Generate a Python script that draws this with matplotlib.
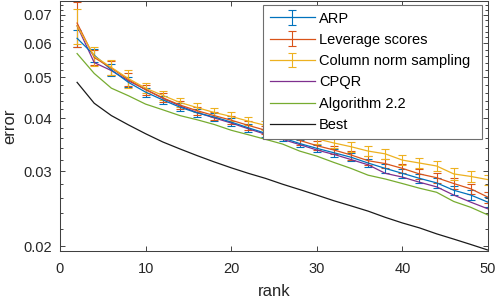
"""Approximation error vs rank for several column selection methods."""

import matplotlib

matplotlib.use("Agg")
import matplotlib.pyplot as plt
import numpy as np
from matplotlib.ticker import FixedLocator, FormatStrFormatter, NullFormatter

plt.rcParams["font.family"] = ["Liberation Sans", "DejaVu Sans"]

ranks = np.arange(2, 51, 2)

arp = [0.0617, 0.0563, 0.0520, 0.0486, 0.0461, 0.0442, 0.0425, 0.0412, 0.0403,
       0.0392, 0.0380, 0.0369, 0.0360, 0.0349, 0.0340, 0.0332, 0.0324, 0.0314,
       0.0305, 0.0297, 0.0289, 0.0282, 0.0271, 0.0264, 0.0254]
arp_err = [0.0029, 0.0020, 0.0018, 0.0013, 0.0011, 0.0010, 0.0009, 0.0009, 0.0008,
           0.0008, 0.0008, 0.0008, 0.0007, 0.0007, 0.0007, 0.0007, 0.0007, 0.0007,
           0.0007, 0.0007, 0.0007, 0.0007, 0.0007, 0.0007, 0.0007]

leverage = [0.0670, 0.0556, 0.0525, 0.0493, 0.0467, 0.0447, 0.0430, 0.0417, 0.0406,
            0.0396, 0.0385, 0.0375, 0.0366, 0.0355, 0.0345, 0.0337, 0.0328, 0.0318,
            0.0313, 0.0305, 0.0296, 0.0290, 0.0281, 0.0273, 0.0261]
leverage_err = [0.0082, 0.0022, 0.0020, 0.0017, 0.0013, 0.0011, 0.0010, 0.0009, 0.0009,
                0.0009, 0.0009, 0.0008, 0.0008, 0.0008, 0.0008, 0.0008, 0.0008, 0.0008,
                0.0008, 0.0008, 0.0008, 0.0008, 0.0008, 0.0008, 0.0008]

colnorm = [0.0660, 0.0560, 0.0527, 0.0496, 0.0471, 0.0453, 0.0436, 0.0424, 0.0413,
           0.0404, 0.0394, 0.0385, 0.0376, 0.0366, 0.0358, 0.0350, 0.0343, 0.0335,
           0.0330, 0.0319, 0.0314, 0.0309, 0.0296, 0.0292, 0.0287]
colnorm_err = [0.0063, 0.0030, 0.0022, 0.0024, 0.0013, 0.0012, 0.0010, 0.0010, 0.0010,
               0.0009, 0.0009, 0.0009, 0.0009, 0.0009, 0.0009, 0.0009, 0.0009, 0.0009,
               0.0009, 0.0009, 0.0009, 0.0009, 0.0009, 0.0008, 0.0008]

cpqr = [0.0660, 0.0541, 0.0518, 0.0490, 0.0468, 0.0446, 0.0428, 0.0413, 0.0401,
        0.0390, 0.0378, 0.0367, 0.0357, 0.0347, 0.0337, 0.0329, 0.0320, 0.0311,
        0.0297, 0.0291, 0.0283, 0.0276, 0.0264, 0.0254, 0.0245]

alg22 = [0.0568, 0.0510, 0.0471, 0.0452, 0.0432, 0.0419, 0.0406, 0.0397, 0.0387,
         0.0375, 0.0366, 0.0357, 0.0348, 0.0335, 0.0326, 0.0315, 0.0305, 0.0294,
         0.0288, 0.0281, 0.0274, 0.0268, 0.0255, 0.0247, 0.0237]

best = [0.0486, 0.0434, 0.0406, 0.0386, 0.0368, 0.0352, 0.0339, 0.0327, 0.0316,
        0.0306, 0.0297, 0.0289, 0.0280, 0.0272, 0.0264, 0.0256, 0.0249, 0.0242,
        0.0234, 0.0227, 0.0221, 0.0214, 0.0208, 0.0202, 0.0196]

yticks = [0.02, 0.03, 0.04, 0.05, 0.06, 0.07]

# MATLAB default colour order
BLUE = "#0072BD"
RED = "#D95319"
YELLOW = "#EDB120"
PURPLE = "#7E2F8E"
GREEN = "#77AC30"
AXIS = "#262626"


def main() -> None:
    fig = plt.figure(figsize=(4.99, 3.04), dpi=100)
    ax = fig.add_axes([0.1202, 0.1743, 0.8577, 0.8224])

    lw = 0.9
    eb = dict(capsize=3.0, elinewidth=0.8, capthick=0.8, linewidth=lw)
    handles = [
        ax.errorbar(ranks, arp, yerr=arp_err, color=BLUE, label="ARP", **eb),
        ax.errorbar(ranks, leverage, yerr=leverage_err, color=RED, label="Leverage scores", **eb),
        ax.errorbar(ranks, colnorm, yerr=colnorm_err, color=YELLOW,
                    label="Column norm sampling", **eb),
    ]
    handles += ax.plot(ranks, cpqr, color=PURPLE, lw=lw, label="CPQR")
    handles += ax.plot(ranks, alg22, color=GREEN, lw=lw, label="Algorithm 2.2")
    handles += ax.plot(ranks, best, color="#1a1a1a", lw=lw, label="Best")

    ax.set_yscale("log")
    ax.set_xlim(0, 50)
    ax.set_ylim(0.0195, 0.0755)
    ax.set_xticks([0, 10, 20, 30, 40, 50])
    ax.yaxis.set_major_locator(FixedLocator(yticks))
    ax.yaxis.set_major_formatter(FormatStrFormatter("%g"))
    minor = [m / 1000 for m in range(20, 76, 2) if m % 10 != 0]
    ax.yaxis.set_minor_locator(FixedLocator(minor))
    ax.yaxis.set_minor_formatter(NullFormatter())

    ax.tick_params(which="both", direction="in", top=True, right=True,
                   colors=AXIS, labelsize=10.5, width=0.6)
    ax.tick_params(which="major", length=3.5)
    ax.tick_params(which="minor", length=2)
    ax.tick_params(axis="x", pad=8)
    ax.tick_params(axis="y", pad=6)
    for spine in ax.spines.values():
        spine.set_color("#404040")
        spine.set_linewidth(0.75)

    ax.set_xlabel("rank", fontsize=12, color=AXIS, labelpad=6)
    ax.set_ylabel("error", fontsize=12, color=AXIS, labelpad=4)

    # legend box: x 263..482 px, top at 5 px (fixed width like MATLAB's)
    leg = ax.legend(handles=handles, loc="upper left", mode="expand",
                    bbox_to_anchor=(263 / 499, 1 - 137 / 304, 219 / 499, 132 / 304),
                    bbox_transform=fig.transFigure, fontsize=10.5,
                    fancybox=False, framealpha=1, edgecolor="#6e6e6e",
                    handlelength=3.1, handletextpad=0.3, labelspacing=0.5,
                    borderpad=0.45, borderaxespad=0)
    leg.get_frame().set_linewidth(0.8)

    fig.savefig("out.png", dpi=100)
    plt.close(fig)


if __name__ == "__main__":
    main()
